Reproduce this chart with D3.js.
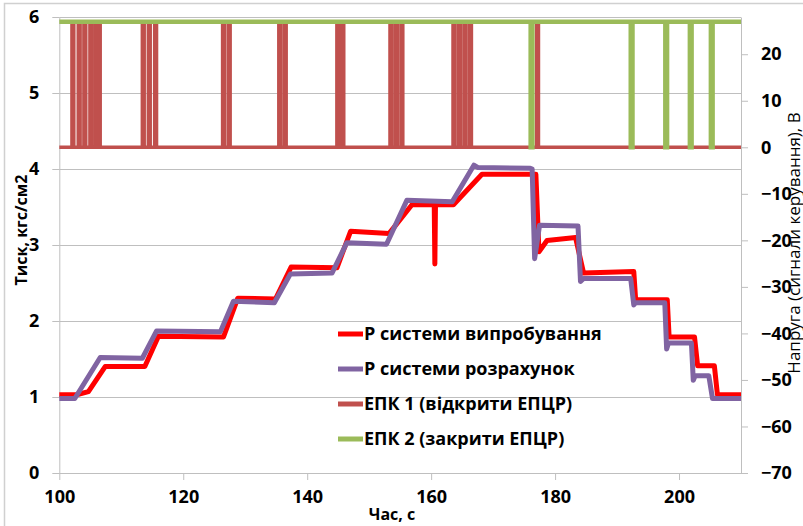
<!DOCTYPE html>
<html>
<head>
<meta charset="utf-8">
<script src="https://cdn.jsdelivr.net/npm/d3@7"></script>
<style>
  body { margin: 0; background: #fff; }
  text { font-family: "Open Sans", sans-serif; fill: #000; }
</style>
</head>
<body>
<div id="chart"></div>
<script>
// pressure, measured (test rig)
var testT = [100, 102.8, 104.7, 107.4, 113.8, 116.0, 126.5, 128.8, 134.9, 137.4, 144.8, 147.0, 153.2, 156.9,
    160.5, 160.6, 160.7, 163.6, 168.2, 176.9, 177.4, 178.7, 183.3, 184.6, 192.7, 193.0, 198.1, 198.4,
    202.5, 203.0, 205.7, 206.2, 210];
var testP = [1.03, 1.03, 1.07, 1.40, 1.40, 1.80, 1.79, 2.30, 2.29, 2.71, 2.70, 3.18, 3.15, 3.53,
    3.53, 2.75, 3.53, 3.53, 3.93, 3.93, 2.91, 3.06, 3.10, 2.63, 2.65, 2.28, 2.28, 1.79,
    1.79, 1.41, 1.41, 1.03, 1.03];

// pressure, calculated
var calcT = [100, 102.5, 106.6, 113.4, 115.7, 126.0, 128.1, 134.7, 137.3, 144.0, 146.4, 152.8, 156.1, 163.4,
    166.9, 167.5, 176.0, 176.3, 176.7, 177.5, 183.7, 184.1, 184.6, 192.2, 192.7, 193.0, 197.7, 198.0,
    198.3, 202.0, 202.3, 202.6, 204.8, 205.4, 210];
var calcP = [0.98, 0.98, 1.52, 1.51, 1.87, 1.86, 2.26, 2.24, 2.62, 2.63, 3.03, 3.01, 3.59, 3.57,
    4.05, 4.02, 4.01, 4.00, 2.82, 3.26, 3.25, 2.52, 2.56, 2.56, 2.21, 2.24, 2.24, 1.63,
    1.71, 1.71, 1.22, 1.28, 1.28, 0.98, 0.98];

// control signals: on/off times of the pulses, volts
var epk1Pulses = [[102.04, 102.34], [103.06, 103.36], [103.97, 104.27], [104.94, 105.24], [105.81, 106.11], [106.30, 106.60],
    [113.40, 113.70], [114.37, 114.67], [115.39, 115.69],
    [126.35, 126.65], [127.27, 127.57],
    [135.42, 135.72], [136.31, 136.61],
    [144.79, 145.09], [145.60, 145.90],
    [153.36, 153.66], [154.24, 154.54], [155.13, 155.43],
    [163.53, 163.83], [164.42, 164.72], [165.31, 165.61], [166.20, 166.50],
    [177.02, 177.32]];
var epk2Dips = [[176.06, 176.34], [192.21, 192.49], [197.79, 198.07], [201.75, 202.03], [205.14, 205.42]];
var signalHigh = 27;

var xTicks = [100, 120, 140, 160, 180, 200];
var yTicks = [0, 1, 2, 3, 4, 5, 6];
var y2Ticks = [-70, -60, -50, -40, -30, -20, -10, 0, 10, 20];

var seriesNames = ["Р системи випробування", "Р системи розрахунок", "ЕПК 1 (відкрити ЕПЦР)", "ЕПК 2 (закрити ЕПЦР)"];
var seriesColors = ["#ff0000", "#8064a2", "#c0504d", "#9bbb59"];

var W = 803, H = 526;
var plot = {left: 59.3, right: 741, top: 17, bottom: 473};

var svg = d3.select("#chart").append("svg")
    .attr("width", W)
    .attr("height", H);

// chart border (runs off the picture right and bottom)
svg.append("rect")
    .attr("x", 4.5).attr("y", 3.5)
    .attr("width", 820).attr("height", 560)
    .attr("fill", "none")
    .attr("stroke", "#d0d0d0")
    .attr("stroke-width", 1.5);

var x = d3.scaleLinear().domain([100, 210]).range([plot.left, plot.right]);
var y = d3.scaleLinear().domain([0, 6]).range([plot.bottom, plot.top]);
var y2 = d3.scaleLinear().domain([-70, 28]).range([plot.bottom, plot.top]);

// gridlines
svg.append("g")
    .selectAll("line")
    .data(yTicks)
    .enter()
    .append("line")
    .attr("x1", plot.left).attr("x2", plot.right)
    .attr("y1", function(d) { return Math.round(y(d)) + 0.5; })
    .attr("y2", function(d) { return Math.round(y(d)) + 0.5; })
    .attr("stroke", "#bfbfbf");

// axes
var axisFont = function(g) {
    g.select(".domain").attr("stroke", "#bfbfbf");
    g.selectAll(".tick line").attr("stroke", "#bfbfbf");
    g.selectAll(".tick text")
        .style("font-family", "'Open Sans', sans-serif")
        .style("font-weight", "bold")
        .style("font-size", "18px")
        .attr("fill", "#000");
}

svg.append("g")
    .attr("transform", "translate(0," + plot.bottom + ")")
    .call(d3.axisBottom(x).tickValues(xTicks).tickFormat(d3.format("d")).tickSize(7).tickSizeOuter(0).tickPadding(10))
    .call(axisFont);

svg.append("g")
    .attr("transform", "translate(" + plot.left + ",0)")
    .call(d3.axisLeft(y).tickValues(yTicks).tickFormat(d3.format("d")).tickSize(7).tickSizeOuter(0).tickPadding(13))
    .call(axisFont);

svg.append("g")
    .attr("transform", "translate(" + plot.right + ",0)")
    .call(d3.axisRight(y2).tickValues(y2Ticks).tickFormat(d3.format("d")).tickSize(7).tickSizeOuter(0).tickPadding(13))
    .call(axisFont);

// build line data
var testData = testT.map(function(t, i) { return [t, testP[i]]; });
var calcData = calcT.map(function(t, i) { return [t, calcP[i]]; });

var epk1Data = [[100, 0]];
epk1Pulses.forEach(function(p) {
    epk1Data.push([p[0], 0], [p[0], signalHigh], [p[1], signalHigh], [p[1], 0]);
});
epk1Data.push([210, 0]);

var epk2Data = [[100, signalHigh]];
epk2Dips.forEach(function(p) {
    epk2Data.push([p[0], signalHigh], [p[0], 0], [p[1], 0], [p[1], signalHigh]);
});
epk2Data.push([210, signalHigh]);

var line1 = d3.line()
    .x(function(d) { return x(d[0]); })
    .y(function(d) { return y(d[1]); });
var line2 = d3.line()
    .x(function(d) { return x(d[0]); })
    .y(function(d) { return y2(d[1]); });

svg.append("path")
    .datum(testData)
    .attr("d", line1)
    .attr("fill", "none")
    .attr("stroke", seriesColors[0])
    .attr("stroke-width", 5)
    .attr("stroke-linejoin", "round");

svg.append("path")
    .datum(calcData)
    .attr("d", line1)
    .attr("fill", "none")
    .attr("stroke", seriesColors[1])
    .attr("stroke-width", 5)
    .attr("stroke-linejoin", "round");

svg.append("path")
    .datum(epk1Data)
    .attr("d", line2)
    .attr("fill", "none")
    .attr("stroke", seriesColors[2])
    .attr("stroke-width", 3.5);

svg.append("path")
    .datum(epk2Data)
    .attr("d", line2)
    .attr("fill", "none")
    .attr("stroke", seriesColors[3])
    .attr("stroke-width", 4.5);

// legend
var legend = svg.append("g")
    .selectAll("g")
    .data(seriesNames)
    .enter()
    .append("g")
    .attr("transform", function(d, i) { return "translate(338," + (334 + i * 35) + ")"; });

legend.append("line")
    .attr("x1", 0).attr("x2", 25)
    .attr("stroke", function(d, i) { return seriesColors[i]; })
    .attr("stroke-width", 5);

legend.append("text")
    .attr("x", 26)
    .attr("y", 6)
    .style("font-size", "18px")
    .style("font-weight", "bold")
    .text(function(d) { return d; });

// axis titles
svg.append("text")
    .attr("transform", "translate(27,230) rotate(-90)")
    .attr("text-anchor", "middle")
    .style("font-size", "16px")
    .style("font-weight", "bold")
    .text("Тиск, кгс/см2");

svg.append("text")
    .attr("transform", "translate(800,243) rotate(-90)")
    .attr("text-anchor", "middle")
    .style("font-size", "17px")
    .text("Напруга (сигнали керування), В");

svg.append("text")
    .attr("x", 392)
    .attr("y", 520)
    .attr("text-anchor", "middle")
    .style("font-size", "16px")
    .style("font-weight", "bold")
    .text("Час, с");
</script>
</body>
</html>
